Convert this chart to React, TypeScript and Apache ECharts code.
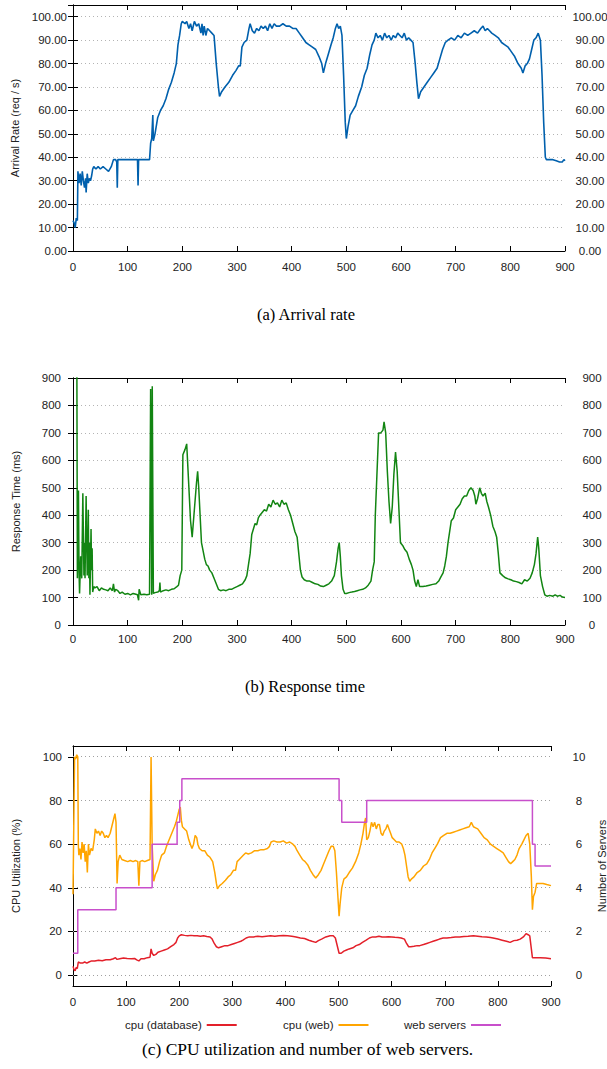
import React, { useEffect, useRef } from 'react';
import * as echarts from 'echarts';

// ---------- data ----------
const xTickValues = [0, 100, 200, 300, 400, 500, 600, 700, 800, 900];
const cpuTickValues = [0, 20, 40, 60, 80, 100];
const serverTickValues = [0, 2, 4, 6, 8, 10];

const arrivalRate: [number, number][] = [
  [0, 13], [2, 12], [4, 10], [6, 14], [8, 13], [9, 34], [11, 29], [13, 33], [15, 28], [17, 34], [19, 30], [21, 27], [23, 31], [24, 25], [26, 33], [28, 29], [30, 31], [32, 30], [34, 32], [36, 35], [38, 36], [42, 35], [46, 36], [50, 35], [55, 36], [60, 35], [65, 34], [70, 36], [74, 39], [78, 39], [80, 38], [81, 27], [82, 39], [90, 39], [100, 39], [110, 39], [118, 39], [119, 28], [120, 39], [130, 39], [140, 39], [142, 46], [144, 48], [146, 58], [147, 47], [150, 50], [155, 57], [160, 60], [165, 62], [170, 65], [175, 69], [180, 72], [185, 76], [189, 80], [192, 88], [195, 92], [198, 97], [200, 98], [205, 97], [208, 98], [212, 95], [215, 97], [218, 94], [222, 98], [226, 96], [230, 97], [234, 93], [236, 97], [238, 92], [240, 96], [243, 92], [246, 95], [250, 94], [254, 93], [258, 92], [262, 80], [266, 70], [268, 66], [272, 68], [278, 70], [285, 72], [292, 75], [298, 77], [303, 79], [306, 79], [309, 87], [313, 89], [318, 90], [322, 95], [324, 97], [328, 94], [332, 93], [336, 95], [340, 94], [344, 96], [348, 95], [352, 96], [356, 94], [360, 97], [364, 95], [368, 97], [372, 96], [378, 96], [384, 97], [390, 96], [396, 96], [402, 95], [408, 95], [414, 93], [420, 91], [426, 89], [432, 88], [438, 87], [444, 86], [450, 83], [455, 80], [458, 76], [462, 80], [467, 84], [472, 88], [476, 91], [480, 95], [483, 97], [486, 95], [489, 96], [492, 92], [495, 75], [498, 55], [500, 48], [503, 53], [507, 58], [512, 60], [517, 62], [522, 66], [528, 70], [533, 75], [538, 78], [543, 84], [547, 88], [551, 90], [554, 93], [558, 91], [562, 92], [566, 90], [570, 93], [574, 91], [578, 92], [582, 90], [586, 92], [590, 91], [594, 93], [598, 92], [602, 91], [606, 93], [610, 90], [614, 91], [618, 90], [622, 89], [626, 80], [629, 72], [632, 65], [636, 68], [642, 70], [648, 72], [654, 74], [660, 76], [666, 78], [671, 82], [676, 86], [681, 89], [686, 90], [692, 91], [698, 90], [704, 92], [710, 91], [716, 93], [722, 92], [728, 93], [734, 94], [740, 93], [746, 95], [750, 96], [754, 94], [758, 95], [762, 94], [766, 93], [772, 92], [778, 91], [784, 89], [790, 88], [796, 87], [802, 85], [808, 83], [814, 80], [820, 78], [823, 76], [827, 79], [831, 80], [835, 82], [839, 86], [843, 90], [847, 91], [851, 93], [855, 90], [858, 75], [861, 55], [864, 40], [866, 39], [872, 39], [878, 39], [884, 38.5], [890, 38], [895, 38], [898, 39], [900, 38.5],
];

const responseTime: [number, number][] = [
  [0, 1200], [7, 1000], [8, 170], [10, 490], [11, 200], [12, 115], [14, 250], [16, 170], [18, 480], [20, 180], [21, 300], [22, 170], [24, 470], [26, 180], [27, 250], [28, 420], [29, 170], [30, 300], [31, 110], [33, 350], [34, 200], [35, 280], [36, 120], [38, 140], [40, 135], [44, 140], [48, 125], [52, 135], [56, 130], [60, 128], [64, 125], [68, 135], [72, 125], [74, 150], [76, 120], [78, 130], [82, 125], [86, 115], [90, 120], [95, 112], [100, 115], [105, 110], [110, 115], [115, 112], [118, 110], [120, 90], [121, 130], [124, 110], [130, 112], [135, 110], [140, 112], [142, 860], [143, 860], [144, 110], [145, 870], [146, 870], [147, 115], [150, 118], [155, 120], [158, 125], [159, 155], [160, 120], [165, 125], [170, 128], [175, 125], [180, 130], [185, 132], [190, 140], [193, 145], [196, 180], [199, 200], [201, 620], [205, 640], [208, 660], [212, 500], [215, 380], [218, 320], [222, 420], [226, 520], [228, 560], [230, 500], [232, 420], [235, 300], [238, 270], [241, 240], [244, 220], [247, 215], [250, 200], [254, 190], [258, 170], [262, 150], [266, 130], [270, 125], [275, 128], [280, 125], [285, 130], [290, 130], [295, 135], [300, 140], [305, 145], [310, 150], [315, 165], [318, 180], [321, 220], [324, 260], [327, 330], [330, 350], [333, 370], [336, 365], [339, 390], [342, 400], [346, 410], [350, 420], [354, 415], [358, 440], [362, 430], [366, 455], [370, 440], [374, 445], [378, 430], [382, 455], [386, 440], [390, 445], [394, 420], [398, 400], [402, 370], [406, 340], [410, 320], [413, 260], [416, 200], [419, 175], [423, 165], [428, 160], [433, 160], [438, 155], [443, 150], [448, 148], [453, 142], [458, 140], [463, 145], [468, 150], [473, 160], [478, 180], [482, 230], [485, 280], [487, 300], [489, 250], [491, 180], [494, 130], [497, 115], [500, 115], [505, 118], [510, 120], [515, 122], [520, 125], [525, 128], [530, 130], [535, 135], [540, 145], [545, 160], [548, 200], [551, 230], [553, 400], [556, 550], [559, 700], [563, 700], [567, 710], [569, 740], [572, 700], [575, 560], [578, 450], [581, 370], [584, 430], [587, 550], [590, 630], [593, 560], [596, 430], [599, 300], [603, 290], [607, 275], [611, 265], [615, 240], [619, 220], [622, 200], [625, 160], [628, 140], [631, 165], [634, 140], [640, 140], [646, 142], [652, 145], [658, 148], [664, 150], [669, 160], [673, 175], [677, 190], [680, 215], [683, 250], [686, 300], [689, 340], [692, 380], [696, 390], [700, 420], [704, 430], [708, 440], [712, 460], [716, 470], [720, 470], [724, 490], [728, 500], [732, 490], [735, 470], [737, 440], [740, 460], [744, 500], [747, 480], [750, 470], [754, 480], [757, 450], [760, 430], [764, 400], [768, 360], [772, 340], [775, 320], [778, 260], [781, 190], [786, 180], [791, 172], [796, 168], [801, 165], [806, 160], [811, 158], [816, 155], [821, 150], [826, 165], [831, 160], [836, 170], [840, 190], [844, 220], [847, 260], [850, 320], [852, 280], [855, 180], [859, 140], [863, 110], [867, 105], [872, 108], [878, 105], [882, 110], [886, 105], [891, 108], [895, 102], [900, 100],
];

const cpuDatabase: [number, number][] = [
  [0, 4], [2, 2.5], [4, 2], [6, 3.5], [8, 3], [10, 6], [14, 5.5], [18, 5.5], [22, 6], [26, 5.5], [30, 6], [35, 6.5], [41, 6.5], [48, 6.8], [55, 6.6], [62, 7], [70, 7], [76, 7.5], [80, 8], [83, 7.2], [88, 7.5], [95, 7.8], [102, 7.6], [110, 7.5], [116, 7.6], [120, 7], [124, 6.5], [128, 7.5], [134, 7.5], [140, 8], [145, 8.2], [147, 12], [149, 10], [152, 9], [156, 9.5], [160, 10.5], [166, 11], [172, 11.5], [178, 12], [184, 13], [190, 14], [194, 15], [197, 17], [200, 18], [204, 18.5], [210, 18.2], [216, 18], [222, 18.2], [228, 18], [234, 18], [240, 17.8], [246, 18], [252, 17.7], [258, 17.5], [262, 16.5], [266, 14.5], [270, 13], [274, 12.5], [280, 13], [286, 13.5], [292, 13.5], [298, 14], [304, 14.5], [310, 15], [316, 15.5], [320, 16], [326, 17], [332, 17.5], [340, 17.5], [348, 17.8], [356, 17.6], [364, 17.8], [372, 18], [380, 17.8], [388, 18], [396, 18.2], [404, 18], [412, 17.8], [420, 17.5], [428, 17], [436, 16.8], [444, 16], [450, 15.5], [457, 15], [462, 15.8], [468, 16.5], [476, 17.5], [484, 18], [490, 18], [494, 17], [498, 13], [501, 10], [505, 10], [510, 11], [515, 11.5], [520, 12], [527, 12.5], [533, 13.5], [539, 14], [545, 15], [552, 16], [558, 17], [564, 17.5], [570, 17.5], [576, 17.8], [582, 17.5], [588, 17.5], [594, 17.6], [600, 17.5], [606, 17.3], [612, 17.2], [618, 17], [624, 16.5], [628, 14.5], [632, 13], [636, 13], [642, 13.2], [648, 13.5], [653, 13.5], [660, 14], [666, 14.5], [672, 15], [678, 15.5], [684, 16], [690, 16.5], [697, 17], [704, 17], [712, 17.2], [720, 17.5], [728, 17.5], [736, 17.7], [744, 17.8], [754, 18], [762, 17.8], [770, 17.6], [778, 17.5], [786, 17.2], [791, 17], [800, 16.5], [808, 16], [816, 15.5], [823, 15], [830, 15.8], [836, 16], [842, 16.5], [848, 17.5], [853, 19], [857, 18.5], [860, 18], [863, 12], [865, 8], [870, 8], [880, 8], [890, 7.8], [900, 7.5],
];

const cpuWeb: [number, number][] = [
  [0, 37], [2, 80], [3, 100], [5, 99], [7, 101], [9, 100], [10, 60], [11, 55], [13, 58], [15, 53], [17, 61], [19, 56], [21, 60], [23, 52], [25, 57], [27, 47], [29, 60], [31, 55], [34, 58], [37, 57], [40, 62], [42, 67], [45, 65], [48, 66], [51, 64], [54, 66], [57, 65], [60, 63], [63, 64], [66, 63], [70, 65], [74, 69], [77, 72], [79, 74], [81, 70], [83, 42], [85, 52], [88, 55], [92, 53], [97, 52.5], [103, 52], [108, 52.5], [113, 52], [118, 52.5], [122, 52], [124, 41], [126, 52], [130, 52.5], [135, 52], [140, 52.5], [145, 53], [147, 100], [149, 60], [152, 43], [155, 46], [159, 48], [163, 52], [167, 55], [172, 56], [176, 59], [181, 62], [186, 65], [191, 68], [194, 70], [197, 73], [200, 76], [202, 77], [204, 71], [206, 68], [210, 67], [214, 66], [218, 62], [221, 60], [224, 58], [227, 60], [230, 64], [233, 63], [235, 60], [238, 58], [243, 57], [248, 57], [253, 55], [258, 54], [263, 52], [267, 47], [270, 42], [272, 39.5], [276, 41], [281, 42], [287, 43.5], [292, 45], [297, 46], [302, 48], [306, 48], [309, 52], [313, 53], [317, 54], [321, 55], [325, 56], [330, 55.5], [336, 56], [342, 57], [348, 57], [354, 57.5], [360, 57.5], [366, 58], [370, 59], [373, 61], [378, 61.5], [384, 61], [390, 61], [396, 61.5], [402, 60.5], [408, 61], [414, 60], [418, 59], [422, 57], [427, 55], [432, 53], [437, 52], [442, 50.5], [447, 48], [452, 46], [457, 44.5], [462, 46], [467, 48], [472, 51], [477, 54], [482, 57], [486, 59], [490, 59], [493, 57], [496, 47], [499, 35], [501, 27], [503, 33], [506, 40], [510, 44], [515, 45], [520, 47], [526, 49], [532, 52], [538, 56], [542, 60], [546, 65], [549, 70], [551, 72], [553, 62], [556, 63], [559, 66], [562, 70], [565, 68], [568, 70], [571, 67], [574, 69], [577, 69], [580, 65], [583, 64], [586, 66], [589, 67], [592, 69], [595, 67], [598, 65], [601, 63], [605, 62], [609, 61], [614, 61], [619, 60], [622, 58], [625, 55], [628, 50], [631, 45], [634, 43], [637, 44], [642, 45], [648, 47], [654, 48], [660, 50], [666, 51], [671, 53], [676, 56], [681, 58], [686, 60], [692, 63], [698, 64], [704, 65], [710, 65], [716, 65.5], [722, 66], [728, 66.5], [734, 67], [740, 67.5], [746, 68], [750, 70], [754, 68], [758, 67.5], [762, 67], [768, 65], [774, 63], [780, 62], [786, 60], [792, 59], [798, 58], [804, 57], [810, 56], [815, 54], [820, 52], [824, 51], [828, 52], [832, 53], [836, 55], [840, 58], [845, 60], [849, 62], [853, 64], [857, 65], [860, 60], [863, 45], [865, 30], [867, 36], [870, 38], [873, 42], [878, 42], [885, 42], [892, 41.5], [900, 41],
];

// number of web servers (value holds until the next change point)
const webServers: [number, number][] = [
  [0, 1], [9, 3], [81, 4], [149, 6], [196, 7], [201, 8], [205, 9], [501, 8], [506, 7], [553, 8], [865, 6], [870, 5], [900, 5],
];

// ---------- styling ----------
const SANS = 'Liberation Sans';
const SERIF = 'Liberation Serif';
const TXT = '#222';
const frame = { color: '#000', width: 1 };
const gridDots = { color: '#b4b4b4', width: 1, type: [1, 3] as number[] };

function xPair(gridIndex: number, margin: number) {
  const base = {
    type: 'value',
    gridIndex,
    min: 0,
    max: 900,
    interval: 100,
    axisLine: { show: true, onZero: false, lineStyle: frame },
    axisTick: { show: true, inside: true, length: 5, lineStyle: frame, customValues: xTickValues },
    splitLine: { show: false },
  };
  return [
    { ...base, position: 'bottom', axisLabel: { margin, fontSize: 11.5, color: TXT, fontFamily: SANS } },
    { ...base, position: 'top', axisLabel: { show: false } },
  ];
}

const captions: any[] = [
  {
    type: 'text', id: 'capA', x: 306, y: 314,
    style: { text: '(a) Arrival rate', font: `16.5px "${SERIF}"`, fill: '#000', textAlign: 'center', textVerticalAlign: 'middle' },
  },
  {
    type: 'text', id: 'capB', x: 305, y: 686,
    style: { text: '(b) Response time', font: `16.5px "${SERIF}"`, fill: '#000', textAlign: 'center', textVerticalAlign: 'middle' },
  },
  {
    type: 'text', id: 'capC', x: 307.5, y: 1050, scaleX: 1.06,
    style: { text: '(c) CPU utilization and number of web servers.', font: `16.5px "${SERIF}"`, fill: '#000', textAlign: 'center', textVerticalAlign: 'middle' },
  },
];

export default function App() {
  const ref = useRef<HTMLDivElement>(null);

  useEffect(() => {
    if (!ref.current) return;
    const chart = echarts.init(ref.current, null, { renderer: 'svg' });

    const fmt2 = (v: number) => (v % 10 === 0 && v <= 100 ? v.toFixed(2) : '');

    const option: any = {
      animation: false,
      backgroundColor: '#fff',
      grid: [
        { left: 73, top: 5, width: 492, height: 246, outerBoundsMode: 'none', containLabel: false },
        { left: 73, top: 378, width: 492, height: 247, outerBoundsMode: 'none', containLabel: false },
        { left: 73, top: 746, width: 478, height: 240, outerBoundsMode: 'none', containLabel: false },
      ],
      xAxis: [...xPair(0, 10), ...xPair(1, 8), ...xPair(2, 10)],
      yAxis: [
        // chart (a)
        {
          type: 'value', gridIndex: 0, position: 'left', min: 0, max: 105, interval: 10,
          name: 'Arrival Rate (req / s)', nameLocation: 'middle', nameGap: 51,
          nameTextStyle: { fontSize: 11, fontFamily: SANS, color: TXT },
          axisLine: { show: true, lineStyle: frame },
          axisTick: { show: true, inside: true, length: 5, lineStyle: frame },
          axisLabel: { formatter: fmt2, margin: 6, fontSize: 11.5, color: TXT, fontFamily: SANS },
          splitLine: { show: true, lineStyle: gridDots },
        },
        {
          type: 'value', gridIndex: 0, position: 'right', min: 0, max: 105, interval: 10,
          axisLine: { show: true, lineStyle: frame },
          axisTick: { show: true, inside: true, length: 5, lineStyle: frame },
          axisLabel: { formatter: fmt2, margin: 25, align: 'center', fontSize: 11.5, color: TXT, fontFamily: SANS },
          splitLine: { show: false },
        },
        // chart (b)
        {
          type: 'value', gridIndex: 1, position: 'left', min: 0, max: 900, interval: 100,
          name: 'Response Time (ms)', nameLocation: 'middle', nameGap: 52,
          nameTextStyle: { fontSize: 11, fontFamily: SANS, color: TXT },
          axisLine: { show: true, lineStyle: frame },
          axisTick: { show: true, inside: true, length: 5, lineStyle: frame },
          axisLabel: { margin: 12, fontSize: 11.5, color: TXT, fontFamily: SANS },
          splitLine: { show: true, lineStyle: gridDots },
        },
        {
          type: 'value', gridIndex: 1, position: 'right', min: 0, max: 900, interval: 100,
          axisLine: { show: true, lineStyle: frame },
          axisTick: { show: true, inside: true, length: 5, lineStyle: frame },
          axisLabel: { margin: 27, align: 'center', fontSize: 11.5, color: TXT, fontFamily: SANS },
          splitLine: { show: false },
        },
        // chart (c)
        {
          type: 'value', gridIndex: 2, position: 'left', min: -5, max: 105,
          name: 'CPU Utilization (%)', nameLocation: 'middle', nameGap: 52,
          nameTextStyle: { fontSize: 11, fontFamily: SANS, color: TXT },
          axisLine: { show: true, lineStyle: frame },
          axisTick: { show: true, inside: true, length: 5, lineStyle: frame, customValues: cpuTickValues },
          axisLabel: { margin: 11, fontSize: 11.5, color: TXT, fontFamily: SANS, customValues: cpuTickValues },
          splitLine: { show: false },
        },
        {
          type: 'value', gridIndex: 2, position: 'right', min: -0.5, max: 10.5,
          name: 'Number of Servers', nameLocation: 'middle', nameGap: 45,
          nameTextStyle: { fontSize: 11, fontFamily: SANS, color: TXT },
          axisLine: { show: true, lineStyle: frame },
          axisTick: { show: true, inside: true, length: 5, lineStyle: frame, customValues: serverTickValues },
          axisLabel: { margin: 28, align: 'center', fontSize: 11.5, color: TXT, fontFamily: SANS, customValues: serverTickValues },
          splitLine: { show: false },
        },
      ],
      legend: [
        {
          data: ['cpu (database)'], left: 125, top: 1019, padding: 0, align: 'right', icon: 'rect',
          itemWidth: 30, itemHeight: 2, textStyle: { fontSize: 11.5, fontFamily: SANS, color: TXT },
        },
        {
          data: ['cpu (web)'], left: 283, top: 1019, padding: 0, align: 'right', icon: 'rect',
          itemWidth: 30, itemHeight: 2, textStyle: { fontSize: 11.5, fontFamily: SANS, color: TXT },
        },
        {
          data: ['web servers'], left: 404, top: 1019, padding: 0, align: 'right', icon: 'rect',
          itemWidth: 30, itemHeight: 2, textStyle: { fontSize: 11.5, fontFamily: SANS, color: TXT },
        },
      ],
      series: [
        {
          name: 'arrival rate', type: 'line', xAxisIndex: 0, yAxisIndex: 0, data: arrivalRate,
          showSymbol: false, symbol: 'none', clip: true,
          itemStyle: { color: '#0060ad' }, lineStyle: { color: '#0060ad', width: 1.6 },
        },
        {
          name: 'response time', type: 'line', xAxisIndex: 2, yAxisIndex: 2, data: responseTime,
          showSymbol: false, symbol: 'none', clip: true,
          itemStyle: { color: '#128512' }, lineStyle: { color: '#128512', width: 1.5 },
        },
        {
          name: 'cpu (database)', type: 'line', xAxisIndex: 4, yAxisIndex: 4, data: cpuDatabase,
          showSymbol: false, symbol: 'none', clip: true, z: 3,
          itemStyle: { color: '#e3202a' }, lineStyle: { color: '#e3202a', width: 1.5 },
        },
        {
          name: 'cpu (web)', type: 'line', xAxisIndex: 4, yAxisIndex: 4, data: cpuWeb,
          showSymbol: false, symbol: 'none', clip: true, z: 3,
          itemStyle: { color: '#ffa500' }, lineStyle: { color: '#ffa500', width: 1.5 },
        },
        {
          name: 'web servers', type: 'line', xAxisIndex: 4, yAxisIndex: 5, data: webServers, step: 'end',
          showSymbol: false, symbol: 'none', clip: true, z: 4,
          itemStyle: { color: '#c84fcb' }, lineStyle: { color: '#c84fcb', width: 1.5 },
        },
      ],
      graphic: captions,
    };

    chart.setOption(option);

    // dotted horizontal grid of chart (c), positioned through the chart's own scales
    try {
      const xa = chart.convertToPixel({ xAxisIndex: 4 } as any, 0) as number;
      const xb = chart.convertToPixel({ xAxisIndex: 4 } as any, 900) as number;
      const gridLines = cpuTickValues.map((v) => {
        const yRaw = chart.convertToPixel({ yAxisIndex: 4 } as any, v) as number;
        const y = Math.round(yRaw - 0.5) + 0.5;
        return {
          type: 'line', id: 'cpuGrid' + v, silent: true, z: 1,
          shape: { x1: xa, y1: y, x2: xb, y2: y },
          style: { stroke: '#a0a0a0', lineWidth: 1, lineDash: [1, 3], fill: null },
        };
      });
      chart.setOption({ graphic: [...captions, ...gridLines] });
    } catch (e) {
      // keep the chart as it is if the conversion fails
    }

    return () => chart.dispose();
  }, []);

  return (
    <div
      ref={ref}
      style={{ position: 'absolute', left: 0, top: 0, width: 607, height: 1069, background: '#fff' }}
    />
  );
}
